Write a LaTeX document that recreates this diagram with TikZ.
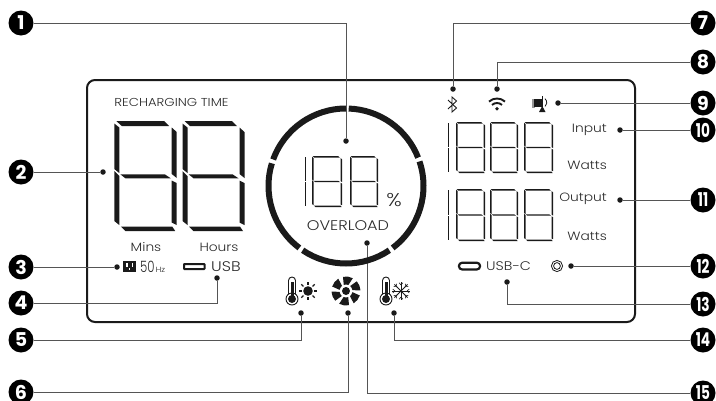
\documentclass[tikz,border=0pt]{standalone}
\usepackage{fontspec}
\setmainfont{Poppins Light}[FakeStretch=1.15]
\newfontfamily\badgefont{Poppins}
\usetikzlibrary{positioning}
\definecolor{ink}{HTML}{1A1A1A}
\definecolor{lbl}{HTML}{2A2A2A}
\definecolor{wire}{HTML}{555555}
\tikzset{
  panel/.style={draw=ink, line width=2pt, rounded corners=8pt, minimum width=548pt, minimum height=242pt, inner sep=0pt},
  badge/.style={circle, fill=black, text=white, minimum size=25pt, inner sep=0pt, font=\fontsize{19}{19}\selectfont\badgefont\bfseries},
  dot/.style={circle, fill=ink, minimum size=5.5pt, inner sep=0pt},
  wirel/.style={draw=wire, line width=1pt},
  lab/.style={text=lbl, inner sep=0pt, font=\fontsize{12}{13}\selectfont},
  ringseg/.style={draw=ink, line width=6pt},
  icon/.style={draw=ink, line width=0.9pt},
}
% one seven-segment digit: x0, y0, x1, y1, thickness
\newcommand{\segdigit}[5]{
  \pgfmathsetmacro{\ym}{(#2+#4)/2}
  \fill[ink] (#1+.4*#5,#2) -- (#3-2.5*#5,#2) -- (#3-1.5*#5,#2+#5) -- (#1+1.5*#5,#2+#5) -- cycle;
  \fill[ink] (#1,#2+.5*#5) -- (#1+#5,#2+1.3*#5) -- (#1+#5,\ym-.6*#5) -- (#1,\ym-1.4*#5) -- cycle;
  \fill[ink] (#1,\ym-#5) -- (#1+#5,\ym) -- (#1+#5,#4-1.2*#5) -- (#1,#4-2*#5) -- cycle;
  \fill[ink] (#3-#5,#2+1.3*#5) -- (#3,#2+2.2*#5) -- (#3,\ym+.4*#5) -- (#3-#5,\ym-.4*#5) -- cycle;
  \fill[ink] (#3-#5,\ym+.9*#5) -- (#3,\ym+1.4*#5) -- (#3,#4-1.2*#5) -- (#3-#5,#4-1.7*#5) -- cycle;
  \fill[ink] (#1+1.3*#5,#4-.9*#5) -- (#3-.9*#5,#4-.9*#5) -- (#3-.3*#5,#4) -- (#1+2.2*#5,#4) -- cycle;
  \fill[ink] (#1+1.2*#5,\ym-.35*#5) -- (#3-2.4*#5,\ym-.35*#5) -- (#3-1.2*#5,\ym+.45*#5) -- (#1+2.2*#5,\ym+.45*#5) -- cycle;
}
% the lone "1" column of a display: x, y0, y1, thickness
\newcommand{\segone}[4]{
  \pgfmathsetmacro{\ym}{(#2+#3)/2}
  \fill[ink] (#1,#2+1) rectangle (#1+#4,\ym-0.5);
  \fill[ink] (#1,\ym+0.5) rectangle (#1+#4,#3-1);
}
\begin{document}
\begin{tikzpicture}[x=1pt, y=-1pt]
\useasboundingbox (0,0) rectangle (716,400);

\node[panel] (screen) at (361,201) {};

% ---------------- badges ----------------
\foreach \n/\h in {1/23,2/172,3/267,4/303,5/340,6/392}
  \node[badge] (b\n) at (21,\h) {\n};
\foreach \n/\h in {7/23,8/62,9/103}
  \node[badge] (b\n) at (703,\h) {\n};
\foreach \n/\h in {10/130,11/200,12/266,13/304,14/340,15/393}
  \node[badge] (b\n) at (703,\h) {\scalebox{0.72}[1]{\n}};

% ---------------- leader ends ----------------
\foreach \n/\px/\py in {1/346/141,2/103/172,3/117/267,4/217/278,5/301/313,6/348/313,7/453/89,8/497/89,
    9/558/103,10/620/130,11/620/200,12/571/266,13/507/282,14/394/313,15/367/243}
  \node[dot] (d\n) at (\px,\py) {};

% ---------------- leaders ----------------
\draw[wirel] (b1) -| (d1);
\draw[wirel] (b2) -- (d2);
\draw[wirel] (b3) -- (d3);
\draw[wirel] (b4) -| (d4);
\draw[wirel] (b5) -| (d5);
\draw[wirel] (b6) -| (d6);
\draw[wirel] (b7) -| (d7);
\draw[wirel] (b8) -| (d8);
\draw[wirel] (b9) -- (d9);
\draw[wirel] (b10) -- (d10);
\draw[wirel] (b11) -- (d11);
\draw[wirel] (b12) -- (d12);
\draw[wirel] (b13) -| (d13);
\draw[wirel] (b14) -| (d14);
\draw[wirel] (b15) -| (d15);

% ---------------- recharging time ----------------
\node[lab, font=\fontsize{11.5}{12}\selectfont] (rtime) at (171.5,102) {RECHARGING TIME};
\segdigit{114.3}{121}{176.7}{231}{5}
\segdigit{182.5}{121}{244.5}{231}{5}
\node[lab] (mins) at (146,247) {Mins};
\node[lab] (hours) at (219,247) {Hours};

% outlet icon and frequency
\fill[ink] (123,261) rectangle (136,272);
\fill[white] (126,263) rectangle (127.5,266.5);
\fill[white] (131.5,263) rectangle (133,266.5);
\fill[white] (128.7,268) rectangle (130.3,270);
\node[lab, anchor=west] (freq) at (140,266.5) {\scalebox{0.85}[1.3]{50}};
\node[lab, font=\fontsize{7.5}{8}\selectfont, right=0.5pt of freq.south east, anchor=south west] (hz) {Hz};

% usb icon
\draw[ink, line width=2pt, rounded corners=0.5pt] (184,264) rectangle (204.5,269);
\node[lab, font=\fontsize{14}{14}\selectfont, anchor=west] (usb) at (211,267) {USB};

% ---------------- load ring ----------------
\foreach \sa/\sb in {-88/-21.5,-18.5/53,56/124,127/197,200/270}
  \draw[ringseg] (346,186) ++(\sa:77.5) arc[start angle=\sa, end angle=\sb, radius=77.5];
\segone{304.5}{156}{207}{1.5}
\segdigit{312}{156}{342}{207}{1.5}
\segdigit{350}{156}{378}{207}{1.5}
\node[lab, font=\fontsize{18.5}{19}\selectfont] (pct) at (394,200) {\%};
\node[lab, font=\fontsize{14}{14}\selectfont] (overload) at (348,226) {OVERLOAD};

% ---------------- temperature and fan icons ----------------
\foreach \tx in {292,386} {
  \draw[icon, fill=white] (\tx-3.5,297) -- (\tx-3.5,280.5) arc[start angle=180, end angle=360, radius=3.5] -- (\tx+3.5,297);
  \draw[icon, fill=white] (\tx,299) circle[radius=6];
  \fill[ink] (\tx,299) circle[radius=4];
  \fill[ink] (\tx-1.5,282) rectangle (\tx+1.5,298);
}
\fill[ink] (308,291) circle[radius=4.8];
\foreach \a in {0,45,...,315}
  \draw[ink, line width=1.2pt] (308,291) ++(\a:6.4) -- ++(\a:3);
\foreach \a in {0,45,...,315} {
  \draw[ink, line width=0.8pt] (401,291) -- ++(\a:9.2);
  \draw[ink, line width=0.6pt] (401,291) ++(\a:6) -- ++(\a+40:3);
  \draw[ink, line width=0.6pt] (401,291) ++(\a:6) -- ++(\a-40:3);
}
\fill[ink] (346,291) circle[radius=4];
\begin{scope}[shift={(346,291)}]
\foreach \a in {10,70,...,310}
  \fill[ink] (\a:6.5) arc[start angle=\a, end angle=\a+42, radius=6.5] -- (\a+48:14.5) arc[start angle=\a+48, end angle=\a+8, radius=14.5] -- cycle;
\end{scope}

% ---------------- status icons ----------------
\draw[icon] (448,100) -- (456.5,108) -- (452,112) -- (452,97) -- (456.5,101) -- (448,109);
\fill[ink] (497,108.8) circle[radius=1.9];
\draw[ink, line width=1.9pt] (497,110.5) ++(-132:7.5) arc[start angle=-132, end angle=-48, radius=7.5];
\draw[ink, line width=1.9pt] (497,110.5) ++(-132:12) arc[start angle=-132, end angle=-48, radius=12];
\fill[ink!45] (532,98.5) rectangle (535,107.5);
\fill[ink] (534,99) rectangle (541.5,107);
\fill[ink] (541.5,96) rectangle (543,110);
\fill[ink] (539,112) -- (545.5,112) -- (542.3,106) -- cycle;
\draw[ink, line width=0.8pt] (545,98.7) arc[start angle=-50, end angle=50, radius=5];

% ---------------- wattage ----------------
\foreach \ta/\tb in {122/173,189/241} {
  \segone{447.5}{\ta}{\tb}{1.5}
  \segdigit{456}{\ta}{485}{\tb}{1.5}
  \segdigit{490}{\ta}{518}{\tb}{1.5}
  \segdigit{524}{\ta}{553}{\tb}{1.5}
}
\node[lab, anchor=east] (input) at (607,130) {Input};
\node[lab, anchor=east] (wattsa) at (607,165) {Watts};
\node[lab, anchor=east] (output) at (607,199) {Output};
\node[lab, anchor=east] (wattsb) at (607,236) {Watts};

% ---------------- usb-c and dc ----------------
\draw[ink, line width=2.2pt, rounded corners=3pt] (459,262.8) rectangle (480,269.4);
\node[lab, font=\fontsize{12.5}{13}\selectfont, anchor=west] (usbc) at (486,266) {USB-C};
\draw[ink, line width=0.8pt] (557,266) circle[radius=5.6];
\draw[ink, line width=0.8pt] (557,266) circle[radius=3.4];

\end{tikzpicture}
\end{document}
